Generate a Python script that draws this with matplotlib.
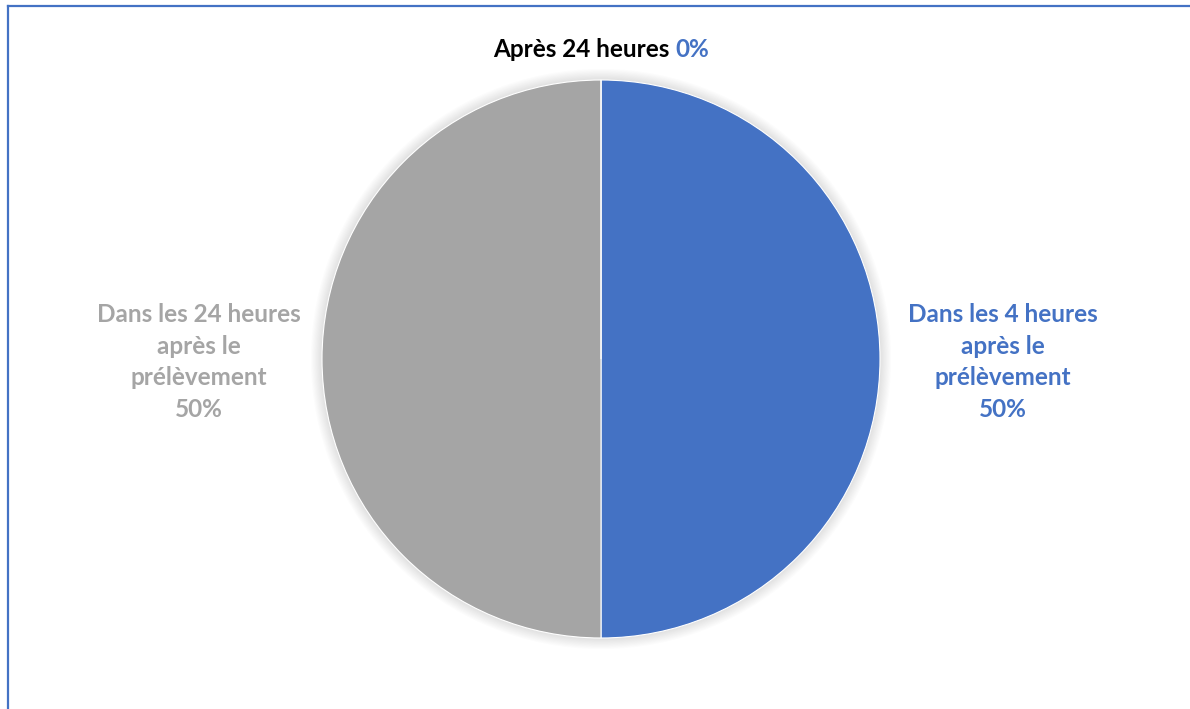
import matplotlib
matplotlib.use("Agg")
import matplotlib.pyplot as plt
import numpy as np
from matplotlib.patches import Circle
from matplotlib.lines import Line2D

# Data
labels = ["Dans les 4 heures\naprès le\nprélèvement", "Dans les 24 heures\naprès le\nprélèvement", "Après 24 heures"]
values = [50, 50, 0]
colors = ["#4472C4", "#A5A5A5", "#ED7D31"]
label_colors = ["#4472C4", "#A5A5A5", "#000000"]

plt.rcParams['font.family'] = ['Lato', 'DejaVu Sans']

W, H = 1190, 709
fig = plt.figure(figsize=(W / 100, H / 100), dpi=100)
R = 279.0
cx, cy = 601.0, 359.0
ax = fig.add_axes([0, 0, 1, 1])

# soft shadow behind the pie
for i in range(10):
    ax.add_patch(Circle((0, 0), 1 + 0.004 * (i + 1), color='#000000', alpha=0.012, lw=0, zorder=0))

wedges, _ = ax.pie(values, colors=colors, startangle=90, counterclock=False,
                   radius=1, wedgeprops=dict(linewidth=0.8, edgecolor='white'))
for w in wedges:
    w.set_zorder(2)

# pie() resets the limits, so set them afterwards
ax.set_aspect('auto')
ax.set_xlim(-cx / R, (W - cx) / R)
ax.set_ylim(-(H - cy) / R, cy / R)
ax.axis('off')

total = sum(values)
fs = 17.5
for w, lab, val, lc in zip(wedges, labels, values, label_colors):
    ang = np.deg2rad((w.theta1 + w.theta2) / 2)
    if val == 0:
        # label sits above the pie, name in black and value in blue
        x, y = 0, 1.108
        t1 = ax.text(x, y, lab + " ", ha='right', va='center', fontsize=fs,
                     fontweight='bold', color=lc)
        t2 = ax.text(x, y, f"{val / total:.0%}", ha='left', va='center', fontsize=fs,
                     fontweight='bold', color=colors[0])
        fig.canvas.draw()
        r = fig.canvas.get_renderer()
        w1 = t1.get_window_extent(r).width
        w2 = t2.get_window_extent(r).width
        shift = (w1 - w2) / 2 / R
        t1.set_x(shift)
        t2.set_x(shift)
    else:
        d = 1.44
        ax.text(d * np.cos(ang), d * np.sin(ang) - 0.01, f"{lab}\n{val / total:.0%}",
                ha='center', va='center', fontsize=fs, fontweight='bold',
                color=lc, linespacing=1.45)

# chart border (only top and left edges are visible)
bx, by = 7.5 / W, 1 - 6 / H
fig.lines.append(Line2D([bx, 1.0], [by, by], transform=fig.transFigure,
                        color='#4472C4', linewidth=1.6))
fig.lines.append(Line2D([bx, bx], [by, 0.0], transform=fig.transFigure,
                        color='#4472C4', linewidth=1.6))

fig.savefig("out.png", dpi=100)
